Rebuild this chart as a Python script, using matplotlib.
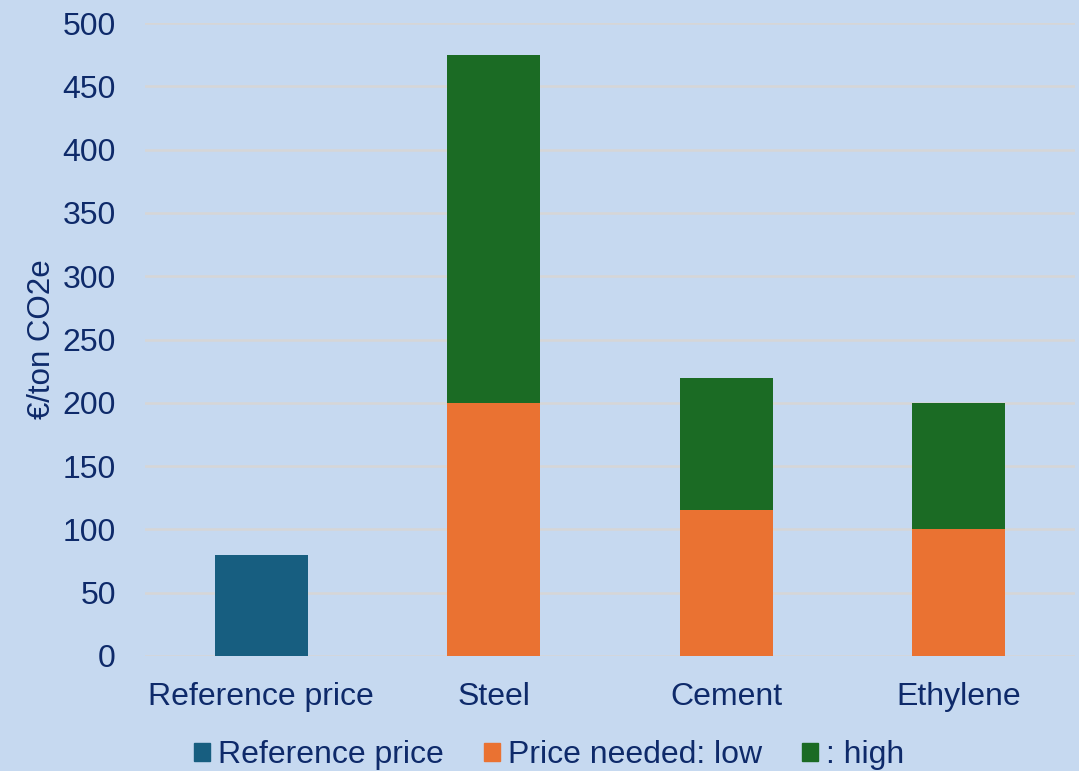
import numpy as np
import matplotlib.pyplot as plt
from matplotlib.patches import Patch

# ====== DATA ======
categories = ["Reference price", "Steel", "Cement", "Ethylene"]
reference_price = [80, 0, 0, 0]
price_low = [0, 200, 115, 100]
price_high = [0, 275, 105, 100]   # increment above low

# ====== STYLE ======
BG = "#C6D9F0"
TXT = "#0E2A6A"
C_REF = "#175E80"
C_LOW = "#EA7232"
C_HIGH = "#1B6B24"

plt.rcParams['font.family'] = ['Liberation Sans', 'DejaVu Sans']

fig = plt.figure(figsize=(10.79, 7.71), dpi=100, facecolor=BG)
ax = fig.add_axes([0.1344, 0.1492, 0.862, 0.8208], facecolor=BG)

x = np.arange(len(categories))
w = 0.40
ax.bar(x, reference_price, w, color=C_REF, zorder=3)
ax.bar(x, price_low, w, color=C_LOW, zorder=3)
ax.bar(x, price_high, w, bottom=price_low, color=C_HIGH, zorder=3)

ax.set_xlim(-0.5, len(categories) - 0.5)
ax.set_ylim(0, 500)
ax.set_yticks(range(0, 501, 50))
ax.set_xticks(x)
ax.set_xticklabels(categories)
ax.tick_params(axis='both', length=0, labelsize=23, colors=TXT)
ax.tick_params(axis='y', pad=21)
ax.tick_params(axis='x', pad=19)
ax.grid(axis='y', color="#D6D6D6", linewidth=1.8, zorder=0)
for s in ax.spines.values():
    s.set_visible(False)

ax.set_ylabel("€/ton CO2e", fontsize=22.5, color=TXT)
ax.yaxis.set_label_coords(-0.095, 0.5)

handles = [Patch(color=C_REF, label="Reference price"),
           Patch(color=C_LOW, label="Price needed: low"),
           Patch(color=C_HIGH, label=": high")]
leg = fig.legend(handles=handles, loc='lower center', bbox_to_anchor=(0.509, -0.036),
                 ncol=3, frameon=False, fontsize=23, handlelength=0.5,
                 handleheight=0.5, handletextpad=0.25, columnspacing=1.25)
for t in leg.get_texts():
    t.set_color(TXT)

fig.savefig("out.png", dpi=100, facecolor=BG)
